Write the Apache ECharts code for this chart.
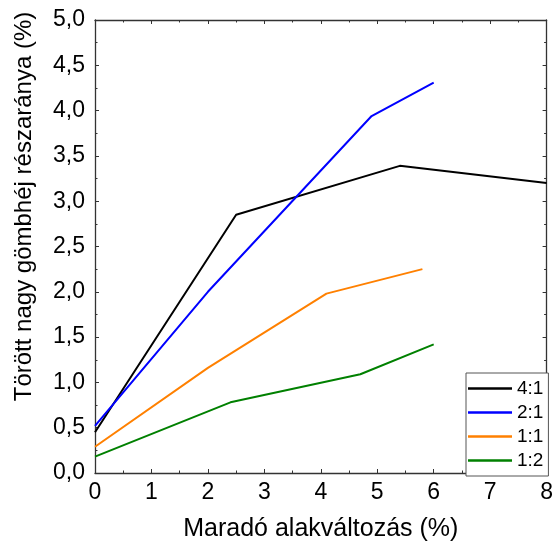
<!DOCTYPE html>
<html>
<head>
<meta charset="utf-8">
<script src="https://cdn.jsdelivr.net/npm/echarts@6/dist/echarts.min.js"></script>
<style>html,body{margin:0;padding:0;background:#fff}#c{width:556px;height:550px}</style>
</head>
<body>
<div id="c"></div>
<script>
var seriesNames = ['4:1', '2:1', '1:1', '1:2'];
var seriesColors = ['#000000', '#0000ff', '#ff8000', '#008000'];
var x41 = [0, 2.5, 5.4, 8.0];
var y41 = [0.45, 2.85, 3.39, 3.20];
var x21 = [0, 2.0, 4.9, 6.0];
var y21 = [0.52, 2.0, 3.94, 4.31];
var x11 = [0, 2.0, 4.1, 5.8];
var y11 = [0.29, 1.16, 1.98, 2.25];
var x12 = [0, 2.4, 4.7, 6.0];
var y12 = [0.18, 0.78, 1.09, 1.42];
var xTitle = 'Maradó alakváltozás (%)';
var yTitle = 'Törött nagy gömbhéj részaránya (%)';

function pairs(xs, ys) { return xs.map(function (v, i) { return [v, ys[i]]; }); }
var allX = [x41, x21, x11, x12];
var allY = [y41, y21, y11, y12];

var FONT = 'Liberation Sans';
var axisCol = '#333';
function baseAxis() {
  return {
    axisLine: { show: true, onZero: false, lineStyle: { color: axisCol, width: 1.3 } },
    axisTick: { show: true, inside: true, length: 4, lineStyle: { color: axisCol, width: 1 } },
    minorTick: { show: true, splitNumber: 2, length: 2.5, lineStyle: { color: axisCol, width: 1 } },
    splitLine: { show: false }
  };
}
function fmt(v) { return v.toFixed(1).replace('.', ','); }

var xb = baseAxis(), xt = baseAxis(), yl = baseAxis(), yr = baseAxis();
var option = {
  animation: false,
  textStyle: { fontFamily: FONT },
  grid: { left: 95, right: 8, top: 20, bottom: 77 },
  legend: {
    orient: 'vertical', left: 466, top: 373,
    data: seriesNames,
    itemWidth: 44, itemHeight: 2.5, itemGap: 5,
    icon: 'rect',
    padding: [6, 5, 6, 2],
    backgroundColor: '#ffffff',
    borderColor: '#555', borderWidth: 1,
    textStyle: { fontFamily: FONT, fontSize: 19, color: '#000' }
  },
  xAxis: [
    Object.assign(xb, {
      type: 'value', min: 0, max: 8, interval: 1, position: 'bottom',
      name: xTitle, nameLocation: 'middle', nameGap: 44,
      nameTextStyle: { fontFamily: FONT, fontSize: 25, color: '#000' },
      axisLabel: { fontFamily: FONT, fontSize: 23, color: '#000', margin: 8 }
    }),
    Object.assign(xt, {
      type: 'value', min: 0, max: 8, interval: 1, position: 'top',
      axisLabel: { show: false }
    })
  ],
  yAxis: [
    Object.assign(yl, {
      type: 'value', min: 0, max: 5, interval: 0.5, position: 'left',
      name: yTitle, nameLocation: 'middle', nameGap: 59,
      nameTextStyle: { fontFamily: FONT, fontSize: 24, color: '#000', padding: [0, 0, 0, 80] },
      axisLabel: { fontFamily: FONT, fontSize: 23, color: '#000', margin: 10, formatter: fmt }
    }),
    Object.assign(yr, {
      type: 'value', min: 0, max: 5, interval: 0.5, position: 'right',
      axisLabel: { show: false }
    })
  ],
  series: seriesNames.map(function (n, i) {
    return {
      name: n, type: 'line', xAxisIndex: 0, yAxisIndex: 0,
      data: pairs(allX[i], allY[i]),
      showSymbol: false, symbol: 'none',
      lineStyle: { color: seriesColors[i], width: 2 },
      itemStyle: { color: seriesColors[i] }
    };
  })
};
var chart = echarts.init(document.getElementById('c'), null, { renderer: 'canvas' });
chart.setOption(option);
</script>
</body>
</html>
